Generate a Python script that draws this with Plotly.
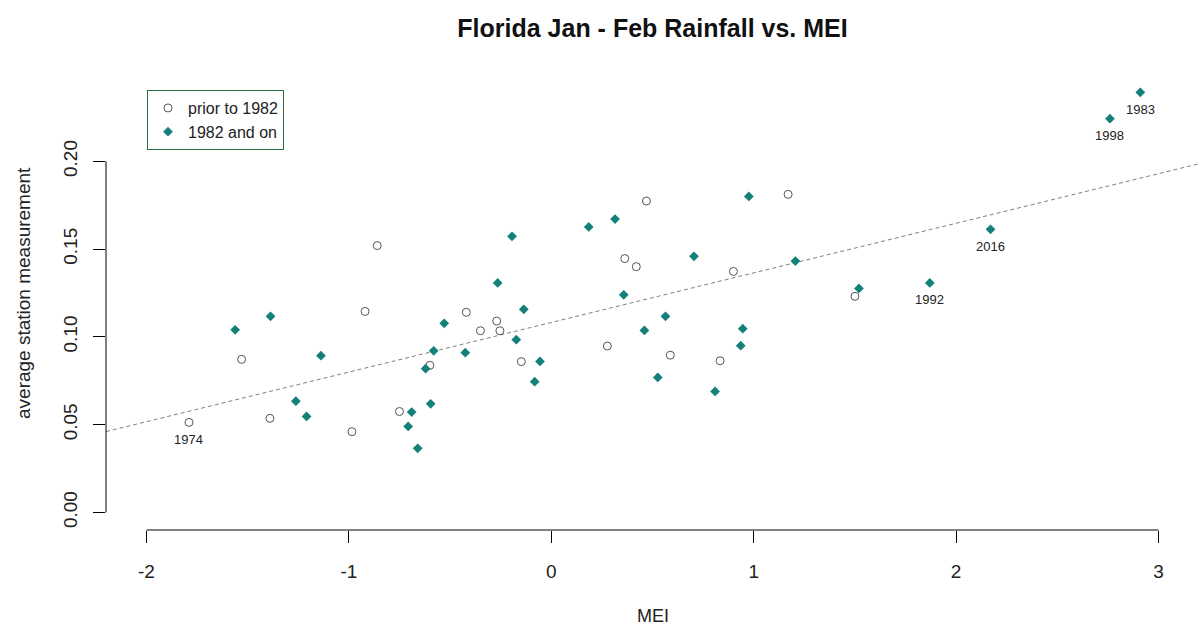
import numpy as np
import plotly.graph_objects as go

# ---- data ----
pre_mei = [-1.79, -1.53, -1.39, -0.86, -0.92, -0.985, -0.75, -0.60, -0.42, -0.35,
           -0.27, -0.254, -0.148, 0.47, 0.363, 0.42, 0.277, 0.588, 0.90, 1.17,
           1.50, 0.834]
pre_rain = [0.0513, 0.0872, 0.0536, 0.152, 0.1145, 0.046, 0.0575, 0.0838, 0.114, 0.1035,
            0.109, 0.1035, 0.0859, 0.1774, 0.1446, 0.140, 0.0948, 0.0896, 0.1373, 0.1812,
            0.1231, 0.0864]

post_mei = [-1.562, -1.387, -1.138, -1.262, -1.209, -0.581, -0.621, -0.596, -0.69, -0.707,
            -0.66, -0.529, -0.425, -0.265, -0.194, -0.136, -0.173, -0.056, -0.082, 0.185,
            0.315, 0.358, 0.46, 0.564, 0.526, 0.705, 0.976, 1.206, 0.946, 0.936,
            0.809, 1.52, 1.87, 2.17, 2.76, 2.91]
post_rain = [0.104, 0.1117, 0.0893, 0.0634, 0.0547, 0.0921, 0.0819, 0.0619, 0.0572, 0.049,
             0.0365, 0.1077, 0.091, 0.1307, 0.1573, 0.1157, 0.0984, 0.086, 0.0745, 0.1626,
             0.1671, 0.124, 0.1037, 0.1117, 0.0769, 0.1459, 0.180, 0.1432, 0.1047, 0.095,
             0.0689, 0.1276, 0.1307, 0.1613, 0.2243, 0.2393]

# labelled years: (group, index in group, label)
labels = [("pre", 0, "1974"), ("post", 32, "1992"), ("post", 33, "2016"),
          ("post", 34, "1998"), ("post", 35, "1983")]

x_ticks = [-2, -1, 0, 1, 2, 3]
y_ticks = [0.00, 0.05, 0.10, 0.15, 0.20]
x_range = [-2.2, 3.2]
y_range = [-0.01, 0.26]

TEAL = "#14807a"
FONT = "Liberation Sans, Arial, sans-serif"

fig = go.Figure()

# regression line on all points
all_x = np.array(pre_mei + post_mei)
all_y = np.array(pre_rain + post_rain)
slope, intercept = np.polyfit(all_x, all_y, 1)
lx = np.array(x_range)
fig.add_trace(go.Scatter(x=lx, y=intercept + slope * lx, mode="lines",
                         line=dict(color="#808080", width=1, dash="4px,3px"),
                         showlegend=False, hoverinfo="skip"))

fig.add_trace(go.Scatter(x=pre_mei, y=pre_rain, mode="markers", name="prior to 1982",
                         marker=dict(symbol="circle-open", size=8, color="#555555",
                                     line=dict(width=1, color="#555555"))))
fig.add_trace(go.Scatter(x=post_mei, y=post_rain, mode="markers", name="1982 and on",
                         marker=dict(symbol="diamond", size=7.5, color=TEAL,
                                     line=dict(width=0))))

groups = {"pre": (pre_mei, pre_rain), "post": (post_mei, post_rain)}
for g, i, txt in labels:
    gx, gy = groups[g]
    fig.add_annotation(x=gx[i], y=gy[i], text=txt, showarrow=False, yshift=-17,
                       font=dict(family=FONT, size=13, color="#222222"))

# R-style axis lines spanning first to last tick
fig.add_shape(type="line", xref="x", yref="paper", x0=x_ticks[0], x1=x_ticks[-1],
              y0=0, y1=0, line=dict(color="black", width=1))
fig.add_shape(type="line", xref="paper", yref="y", x0=0, x1=0,
              y0=y_ticks[0], y1=y_ticks[-1], line=dict(color="black", width=1))

# axis titles
fig.add_annotation(xref="paper", yref="paper", x=0.5, y=0, yshift=-86, text="MEI",
                   showarrow=False, font=dict(family=FONT, size=18, color="#222222"),
                   yanchor="middle")
fig.add_annotation(xref="paper", yref="paper", x=0, y=0.5, xshift=-83,
                   text="average station measurement", textangle=-90,
                   showarrow=False, font=dict(family=FONT, size=19, color="#222222"),
                   xanchor="center", yanchor="middle")

fig.update_layout(
    width=1199, height=627,
    margin=dict(l=106, r=0, t=56, b=97),
    paper_bgcolor="white", plot_bgcolor="white",
    title=dict(text="<b>Florida Jan - Feb Rainfall vs. MEI</b>", x=0.5, xref="paper",
               y=1 - 28 / 627, yref="container", xanchor="center", yanchor="middle",
               font=dict(family=FONT, size=25, color="#111111")),
    xaxis=dict(range=x_range, tickvals=x_ticks, ticktext=[str(v) for v in x_ticks],
               showgrid=False, zeroline=False, showline=False,
               ticks="outside", ticklen=12, tickwidth=1, tickcolor="black",
               ticklabelstandoff=12,
               tickfont=dict(family=FONT, size=19, color="#222222")),
    yaxis=dict(range=y_range, tickvals=y_ticks, ticktext=[f"{v:.2f}" for v in y_ticks],
               showgrid=False, zeroline=False, showline=False,
               ticks="outside", ticklen=12, tickwidth=1, tickcolor="black",
               tickangle=-90, ticklabelstandoff=8,
               tickfont=dict(family=FONT, size=19, color="#222222")),
    legend=dict(x=(147 - 106) / 1093, y=(529.6 - 90) / 473.6, xanchor="left", yanchor="top",
                bordercolor="#2f6e3c", borderwidth=1, bgcolor="white",
                font=dict(family=FONT, size=16, color="#222222"),
                tracegroupgap=0, itemwidth=30),
    showlegend=True,
)

fig.write_html("out.html")
